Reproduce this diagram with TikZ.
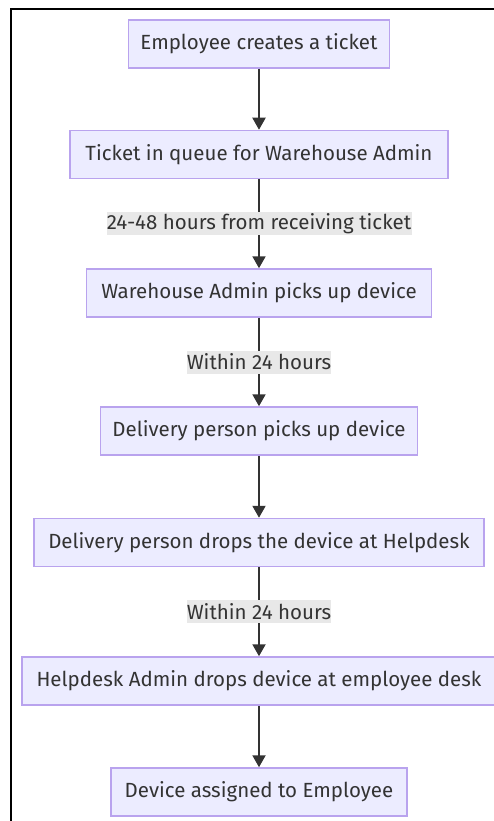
\documentclass[tikz,border=0pt]{standalone}
\usepackage{fontspec}
\setmainfont{Fira Sans}
\usetikzlibrary{arrows.meta}
\definecolor{boxfill}{HTML}{ECECFF}
\definecolor{boxline}{HTML}{B9A3EE}
\definecolor{txt}{HTML}{333333}
\definecolor{lblbg}{HTML}{E8E8E8}
\begin{document}
\begin{tikzpicture}[x=1pt,y=-1pt,
  box/.style={draw=boxline, fill=boxfill, line width=1.5pt, minimum height=48pt, inner sep=0pt, text=txt, font=\fontsize{20.5}{22}\selectfont},
  lbl/.style={fill=lblbg, text=txt, inner sep=0pt, minimum height=23pt, font=\fontsize{20.5}{22}\selectfont},
  flow/.style={draw=txt, line width=2pt, -{Triangle[length=12pt,width=13pt]}}]
\useasboundingbox (0,0) rectangle (494,821);
\draw[line width=2pt, black] (11,821) coordinate (fa) -- (11,9) coordinate (fb) -- (494,9) coordinate (fc);
\node[box, minimum width=261pt] (b1) at (259,44) {Employee creates a ticket};
\node[box, minimum width=378pt] (b2) at (259,154.5) {Ticket in queue for Warehouse Admin};
\node[box, minimum width=345pt] (b3) at (259,293) {Warehouse Admin picks up device};
\node[box, minimum width=317pt] (b4) at (259,431) {Delivery person picks up device};
\node[box, minimum width=450pt] (b5) at (259,542.5) {Delivery person drops the device at Helpdesk};
\node[box, minimum width=474pt] (b6) at (259,681) {Helpdesk Admin drops device at employee desk};
\node[box, minimum width=296pt] (b7) at (259,792) {Device assigned to Employee};
\draw[flow] (b1) -- (b2);
\draw[flow] (b2) -- node[lbl, minimum width=305pt] (l1) {24-48 hours from receiving ticket} (b3);
\draw[flow] (b3) -- node[lbl, minimum width=143pt] (l2) {Within 24 hours} (b4);
\draw[flow] (b4) -- (b5);
\draw[flow] (b5) -- node[lbl, minimum width=143pt] (l3) {Within 24 hours} (b6);
\draw[flow] (b6) -- (b7);
\end{tikzpicture}
\end{document}
